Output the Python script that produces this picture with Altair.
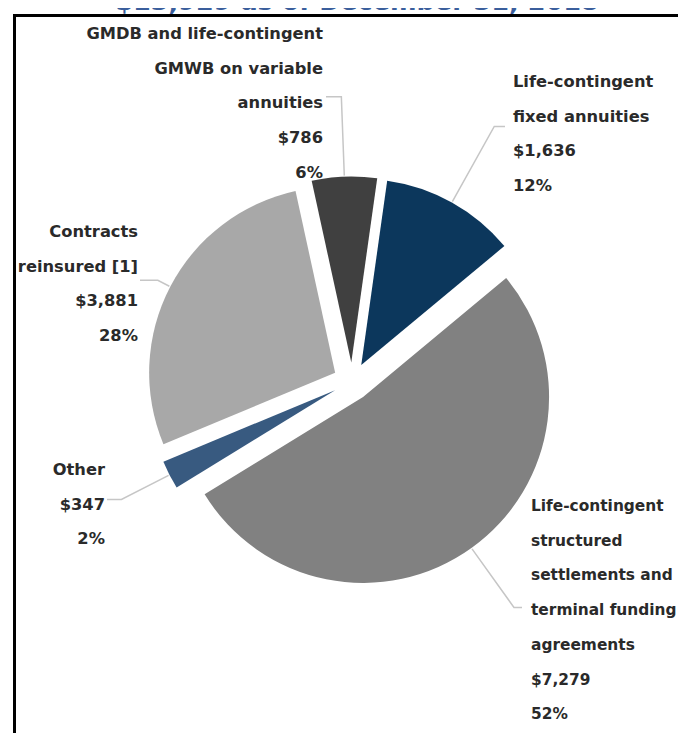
import math
import altair as alt
import pandas as pd

# ---------------- data ----------------
categories = [
    "GMDB and life-contingent GMWB on variable annuities",
    "Life-contingent fixed annuities",
    "Life-contingent structured settlements and terminal funding agreements",
    "Other",
    "Contracts reinsured [1]",
]
values = [786, 1636, 7279, 347, 3881]
pct_labels = ["6%", "12%", "52%", "2%", "28%"]
value_labels = ["$786", "$1,636", "$7,279", "$347", "$3,881"]
label_lines = [
    ["GMDB and life-contingent", "GMWB on variable", "annuities"],
    ["Life-contingent", "fixed annuities"],
    ["Life-contingent", "structured", "settlements and", "terminal funding", "agreements"],
    ["Other"],
    ["Contracts", "reinsured [1]"],
]
title_text = "$13,929 as of December 31, 2018"
colors = ["#404040", "#0c375c", "#818181", "#385a80", "#a8a8a8"]

# ---------------- layout ----------------
W, H = 670, 725
CX, CY = 344.0, 373.5      # pie centre (svg px)
R = 186.0                  # radius
D = 19.0                   # explode distance
A0 = math.radians(347.7)   # start angle (clockwise from 12 o'clock)
TOTAL = float(sum(values))
LINE_H = 34.7
FONT = "DejaVu Sans"

# label anchors: (x, first baseline y, align, font size), elbow radius, leader end x
label_layout = [
    (315, 31, "right", 16.3, 266, 318),
    (505, 79, "left", 16.3, 273, 497),
    (523, 503, "left", 15.4, 259, 514),
    (97, 467, "right", 16.3, 240, 99),
    (130, 229, "right", 16.3, 200, 132),
]

slices = pd.DataFrame({
    "category": categories,
    "value": values,
    "order": list(range(len(values))),
})

arcs = (
    alt.Chart(slices)
    .transform_window(cum="sum(value)", sort=[alt.SortField("order")], frame=[None, 0])
    .transform_calculate(
        t0="datum.cum - datum.value",
        t1="datum.cum",
        mid=f"{A0} + 2*PI*(datum.cum - datum.value/2)/{TOTAL}",
    )
    .transform_calculate(
        cx=f"{CX} + {D}*sin(datum.mid)",
        cy=f"{CY} - {D}*cos(datum.mid)",
    )
    .mark_arc(radius=R, stroke=None)
    .encode(
        theta=alt.Theta("t0:Q", stack=None,
                        scale=alt.Scale(domain=[0, TOTAL], range=[A0, A0 + 2 * math.pi])),
        theta2="t1:Q",
        x=alt.X("cx:Q", scale=None, axis=None),
        y=alt.Y("cy:Q", scale=None, axis=None),
        color=alt.Color("category:N", scale=alt.Scale(domain=categories, range=colors), legend=None),
    )
)

# leader lines and labels from slice mid-angles
line_rows, text_rows = [], []
cum = 0.0
for i, v in enumerate(values):
    mid = A0 + 2 * math.pi * (cum + v / 2) / TOTAL
    cum += v
    sx, sy = CX + D * math.sin(mid), CY - D * math.cos(mid)
    lx, ly, align, fs, er, ex = label_layout[i]
    p0 = (sx + (R + 1) * math.sin(mid), sy - (R + 1) * math.cos(mid))
    p1 = (sx + er * math.sin(mid), sy - er * math.cos(mid))
    p2 = (ex, p1[1])
    for k, (px, py) in enumerate([p0, p1, p2]):
        line_rows.append({"category": categories[i], "k": k, "px": px, "py": py})
    lines = label_lines[i] + [value_labels[i], pct_labels[i]]
    for j, t in enumerate(lines):
        text_rows.append({"txt": t, "tx": lx, "ty": ly + j * LINE_H, "align": align, "fs": fs})

leaders = (
    alt.Chart(pd.DataFrame(line_rows))
    .mark_line(color="#c6c6c6", strokeWidth=1.5)
    .encode(
        x=alt.X("px:Q", scale=None, axis=None),
        y=alt.Y("py:Q", scale=None, axis=None),
        detail="category:N",
        order="k:Q",
    )
)

tdf = pd.DataFrame(text_rows)
def text_layer(al, fs):
    return (
        alt.Chart(tdf[(tdf["align"] == al) & (tdf["fs"] == fs)])
        .mark_text(align=al, baseline="alphabetic", font=FONT, fontSize=fs,
                   fontWeight="bold", color="#2a2a2a")
        .encode(
            x=alt.X("tx:Q", scale=None, axis=None),
            y=alt.Y("ty:Q", scale=None, axis=None),
            text="txt:N",
        )
    )

frame = (
    alt.Chart(pd.DataFrame({"a": [0]}))
    .mark_rect(fill=None, stroke="#000000", strokeWidth=3)
    .encode(x=alt.value(6.5), x2=alt.value(W + 40), y=alt.value(7.5), y2=alt.value(H + 40))
)

title = (
    alt.Chart(pd.DataFrame({"t": [title_text]}))
    .mark_text(align="center", baseline="alphabetic", font=FONT, fontSize=25.5,
               fontWeight="bold", color="#3a5e9c")
    .encode(x=alt.value(349), y=alt.value(2), text="t:N")
)

chart = (
    alt.layer(frame, leaders, arcs,
              text_layer("left", 16.3), text_layer("left", 15.4),
              text_layer("right", 16.3), title)
    .properties(width=W, height=H, autosize=alt.AutoSizeParams(type="none"), padding=0)
    .configure_view(stroke=None)
)

chart.save("out.html", embed_options={"renderer": "svg", "actions": False})
